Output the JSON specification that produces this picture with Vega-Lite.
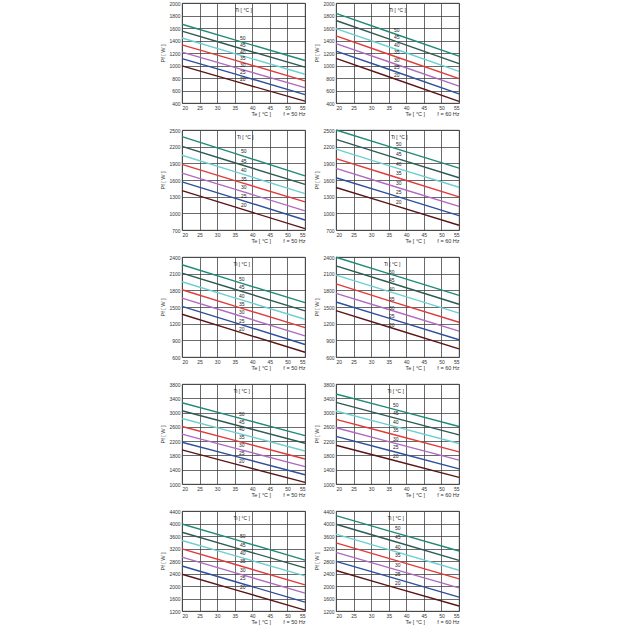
{
  "$schema": "https://vega.github.io/schema/vega-lite/v6.json",
  "padding": {"left": 160, "top": 0, "right": 5, "bottom": 5},
  "background": "white",
  "config": {
    "font": "Liberation Sans",
    "view": {"stroke": "#333", "strokeWidth": 0.8},
    "axis": {"gridColor": "#3a3a3a", "gridWidth": 0.75, "gridOpacity": 1, "domain": false, "ticks": false, "labelFontSize": 5, "labelColor": "#333", "titleFontSize": 5.5, "titleFontWeight": "normal", "titleColor": "#333", "labelPadding": 2},
    "axisX": {"titleAnchor": "end", "titlePadding": 1},
    "axisY": {"titlePadding": 3, "format": "d"},
    "text": {"fontSize": 5, "color": "#222"},
    "line": {"strokeWidth": 1.4}
  },
  "datasets": {
    "curves": [
      {"p":1,"Ti":50,"Te":20,"Pf":1660},{"p":1,"Ti":50,"Te":35,"Pf":1410},{"p":1,"Ti":50,"Te":55,"Pf":1080},
      {"p":1,"Ti":45,"Te":20,"Pf":1550},{"p":1,"Ti":45,"Te":35,"Pf":1300},{"p":1,"Ti":45,"Te":55,"Pf":975},
      {"p":1,"Ti":40,"Te":20,"Pf":1440},{"p":1,"Ti":40,"Te":35,"Pf":1190},{"p":1,"Ti":40,"Te":55,"Pf":860},
      {"p":1,"Ti":35,"Te":20,"Pf":1330},{"p":1,"Ti":35,"Te":35,"Pf":1085},{"p":1,"Ti":35,"Te":55,"Pf":755},
      {"p":1,"Ti":30,"Te":20,"Pf":1215},{"p":1,"Ti":30,"Te":35,"Pf":970},{"p":1,"Ti":30,"Te":55,"Pf":645},
      {"p":1,"Ti":25,"Te":20,"Pf":1110},{"p":1,"Ti":25,"Te":35,"Pf":865},{"p":1,"Ti":25,"Te":55,"Pf":535},
      {"p":1,"Ti":20,"Te":20,"Pf":995},{"p":1,"Ti":20,"Te":35,"Pf":750},{"p":1,"Ti":20,"Te":55,"Pf":430},

      {"p":2,"Ti":50,"Te":20,"Pf":1835},{"p":2,"Ti":50,"Te":35,"Pf":1540},{"p":2,"Ti":50,"Te":55,"Pf":1150},
      {"p":2,"Ti":45,"Te":20,"Pf":1720},{"p":2,"Ti":45,"Te":35,"Pf":1425},{"p":2,"Ti":45,"Te":55,"Pf":1030},
      {"p":2,"Ti":40,"Te":20,"Pf":1590},{"p":2,"Ti":40,"Te":35,"Pf":1300},{"p":2,"Ti":40,"Te":55,"Pf":905},
      {"p":2,"Ti":35,"Te":20,"Pf":1475},{"p":2,"Ti":35,"Te":35,"Pf":1180},{"p":2,"Ti":35,"Te":55,"Pf":790},
      {"p":2,"Ti":30,"Te":20,"Pf":1350},{"p":2,"Ti":30,"Te":35,"Pf":1060},{"p":2,"Ti":30,"Te":55,"Pf":670},
      {"p":2,"Ti":25,"Te":20,"Pf":1230},{"p":2,"Ti":25,"Te":35,"Pf":940},{"p":2,"Ti":25,"Te":55,"Pf":545},
      {"p":2,"Ti":20,"Te":20,"Pf":1115},{"p":2,"Ti":20,"Te":35,"Pf":820},{"p":2,"Ti":20,"Te":55,"Pf":425},

      {"p":3,"Ti":50,"Te":20,"Pf":2380},{"p":3,"Ti":50,"Te":35,"Pf":2080},{"p":3,"Ti":50,"Te":55,"Pf":1675},
      {"p":3,"Ti":45,"Te":20,"Pf":2205},{"p":3,"Ti":45,"Te":35,"Pf":1910},{"p":3,"Ti":45,"Te":55,"Pf":1520},
      {"p":3,"Ti":40,"Te":20,"Pf":2045},{"p":3,"Ti":40,"Te":35,"Pf":1750},{"p":3,"Ti":40,"Te":55,"Pf":1355},
      {"p":3,"Ti":35,"Te":20,"Pf":1880},{"p":3,"Ti":35,"Te":35,"Pf":1590},{"p":3,"Ti":35,"Te":55,"Pf":1205},
      {"p":3,"Ti":30,"Te":20,"Pf":1725},{"p":3,"Ti":30,"Te":35,"Pf":1435},{"p":3,"Ti":30,"Te":55,"Pf":1045},
      {"p":3,"Ti":25,"Te":20,"Pf":1565},{"p":3,"Ti":25,"Te":35,"Pf":1275},{"p":3,"Ti":25,"Te":55,"Pf":880},
      {"p":3,"Ti":20,"Te":20,"Pf":1410},{"p":3,"Ti":20,"Te":35,"Pf":1115},{"p":3,"Ti":20,"Te":55,"Pf":725},

      {"p":4,"Ti":50,"Te":20,"Pf":2500},{"p":4,"Ti":50,"Te":35,"Pf":2205},{"p":4,"Ti":50,"Te":55,"Pf":1815},
      {"p":4,"Ti":45,"Te":20,"Pf":2330},{"p":4,"Ti":45,"Te":35,"Pf":2035},{"p":4,"Ti":45,"Te":55,"Pf":1640},
      {"p":4,"Ti":40,"Te":20,"Pf":2155},{"p":4,"Ti":40,"Te":35,"Pf":1860},{"p":4,"Ti":40,"Te":55,"Pf":1470},
      {"p":4,"Ti":35,"Te":20,"Pf":1985},{"p":4,"Ti":35,"Te":35,"Pf":1690},{"p":4,"Ti":35,"Te":55,"Pf":1295},
      {"p":4,"Ti":30,"Te":20,"Pf":1810},{"p":4,"Ti":30,"Te":35,"Pf":1515},{"p":4,"Ti":30,"Te":55,"Pf":1125},
      {"p":4,"Ti":25,"Te":20,"Pf":1640},{"p":4,"Ti":25,"Te":35,"Pf":1350},{"p":4,"Ti":25,"Te":55,"Pf":960},
      {"p":4,"Ti":20,"Te":20,"Pf":1465},{"p":4,"Ti":20,"Te":35,"Pf":1175},{"p":4,"Ti":20,"Te":55,"Pf":785},

      {"p":5,"Ti":50,"Te":20,"Pf":2260},{"p":5,"Ti":50,"Te":35,"Pf":1965},{"p":5,"Ti":50,"Te":55,"Pf":1580},
      {"p":5,"Ti":45,"Te":20,"Pf":2110},{"p":5,"Ti":45,"Te":35,"Pf":1820},{"p":5,"Ti":45,"Te":55,"Pf":1430},
      {"p":5,"Ti":40,"Te":20,"Pf":1955},{"p":5,"Ti":40,"Te":35,"Pf":1665},{"p":5,"Ti":40,"Te":55,"Pf":1280},
      {"p":5,"Ti":35,"Te":20,"Pf":1810},{"p":5,"Ti":35,"Te":35,"Pf":1515},{"p":5,"Ti":35,"Te":55,"Pf":1130},
      {"p":5,"Ti":30,"Te":20,"Pf":1660},{"p":5,"Ti":30,"Te":35,"Pf":1370},{"p":5,"Ti":30,"Te":55,"Pf":980},
      {"p":5,"Ti":25,"Te":20,"Pf":1510},{"p":5,"Ti":25,"Te":35,"Pf":1220},{"p":5,"Ti":25,"Te":55,"Pf":825},
      {"p":5,"Ti":20,"Te":20,"Pf":1370},{"p":5,"Ti":20,"Te":35,"Pf":1075},{"p":5,"Ti":20,"Te":55,"Pf":685},

      {"p":6,"Ti":50,"Te":20,"Pf":2395},{"p":6,"Ti":50,"Te":35,"Pf":2100},{"p":6,"Ti":50,"Te":55,"Pf":1710},
      {"p":6,"Ti":45,"Te":20,"Pf":2240},{"p":6,"Ti":45,"Te":35,"Pf":1945},{"p":6,"Ti":45,"Te":55,"Pf":1550},
      {"p":6,"Ti":40,"Te":20,"Pf":2075},{"p":6,"Ti":40,"Te":35,"Pf":1780},{"p":6,"Ti":40,"Te":55,"Pf":1390},
      {"p":6,"Ti":35,"Te":20,"Pf":1915},{"p":6,"Ti":35,"Te":35,"Pf":1615},{"p":6,"Ti":35,"Te":55,"Pf":1225},
      {"p":6,"Ti":30,"Te":20,"Pf":1745},{"p":6,"Ti":30,"Te":35,"Pf":1455},{"p":6,"Ti":30,"Te":55,"Pf":1065},
      {"p":6,"Ti":25,"Te":20,"Pf":1590},{"p":6,"Ti":25,"Te":35,"Pf":1300},{"p":6,"Ti":25,"Te":55,"Pf":910},
      {"p":6,"Ti":20,"Te":20,"Pf":1435},{"p":6,"Ti":20,"Te":35,"Pf":1140},{"p":6,"Ti":20,"Te":55,"Pf":745},

      {"p":7,"Ti":50,"Te":20,"Pf":3275},{"p":7,"Ti":50,"Te":35,"Pf":2880},{"p":7,"Ti":50,"Te":55,"Pf":2355},
      {"p":7,"Ti":45,"Te":20,"Pf":3050},{"p":7,"Ti":45,"Te":35,"Pf":2660},{"p":7,"Ti":45,"Te":55,"Pf":2140},
      {"p":7,"Ti":40,"Te":20,"Pf":2835},{"p":7,"Ti":40,"Te":35,"Pf":2445},{"p":7,"Ti":40,"Te":55,"Pf":1925},
      {"p":7,"Ti":35,"Te":20,"Pf":2610},{"p":7,"Ti":35,"Te":35,"Pf":2220},{"p":7,"Ti":35,"Te":55,"Pf":1700},
      {"p":7,"Ti":30,"Te":20,"Pf":2395},{"p":7,"Ti":30,"Te":35,"Pf":2005},{"p":7,"Ti":30,"Te":55,"Pf":1485},
      {"p":7,"Ti":25,"Te":20,"Pf":2170},{"p":7,"Ti":25,"Te":35,"Pf":1780},{"p":7,"Ti":25,"Te":55,"Pf":1260},
      {"p":7,"Ti":20,"Te":20,"Pf":1955},{"p":7,"Ti":20,"Te":35,"Pf":1565},{"p":7,"Ti":20,"Te":55,"Pf":1045},

      {"p":8,"Ti":50,"Te":20,"Pf":3520},{"p":8,"Ti":50,"Te":35,"Pf":3130},{"p":8,"Ti":50,"Te":55,"Pf":2610},
      {"p":8,"Ti":45,"Te":20,"Pf":3285},{"p":8,"Ti":45,"Te":35,"Pf":2895},{"p":8,"Ti":45,"Te":55,"Pf":2375},
      {"p":8,"Ti":40,"Te":20,"Pf":3045},{"p":8,"Ti":40,"Te":35,"Pf":2655},{"p":8,"Ti":40,"Te":55,"Pf":2135},
      {"p":8,"Ti":35,"Te":20,"Pf":2810},{"p":8,"Ti":35,"Te":35,"Pf":2420},{"p":8,"Ti":35,"Te":55,"Pf":1900},
      {"p":8,"Ti":30,"Te":20,"Pf":2575},{"p":8,"Ti":30,"Te":35,"Pf":2185},{"p":8,"Ti":30,"Te":55,"Pf":1670},
      {"p":8,"Ti":25,"Te":20,"Pf":2335},{"p":8,"Ti":25,"Te":35,"Pf":1945},{"p":8,"Ti":25,"Te":55,"Pf":1425},
      {"p":8,"Ti":20,"Te":20,"Pf":2085},{"p":8,"Ti":20,"Te":35,"Pf":1700},{"p":8,"Ti":20,"Te":55,"Pf":1185},

      {"p":9,"Ti":50,"Te":20,"Pf":3985},{"p":9,"Ti":50,"Te":35,"Pf":3490},{"p":9,"Ti":50,"Te":55,"Pf":2830},
      {"p":9,"Ti":45,"Te":20,"Pf":3720},{"p":9,"Ti":45,"Te":35,"Pf":3230},{"p":9,"Ti":45,"Te":55,"Pf":2580},
      {"p":9,"Ti":40,"Te":20,"Pf":3455},{"p":9,"Ti":40,"Te":35,"Pf":2970},{"p":9,"Ti":40,"Te":55,"Pf":2325},
      {"p":9,"Ti":35,"Te":20,"Pf":3190},{"p":9,"Ti":35,"Te":35,"Pf":2695},{"p":9,"Ti":35,"Te":55,"Pf":2035},
      {"p":9,"Ti":30,"Te":20,"Pf":2925},{"p":9,"Ti":30,"Te":35,"Pf":2430},{"p":9,"Ti":30,"Te":55,"Pf":1770},
      {"p":9,"Ti":25,"Te":20,"Pf":2640},{"p":9,"Ti":25,"Te":35,"Pf":2145},{"p":9,"Ti":25,"Te":55,"Pf":1485},
      {"p":9,"Ti":20,"Te":20,"Pf":2375},{"p":9,"Ti":20,"Te":35,"Pf":1885},{"p":9,"Ti":20,"Te":55,"Pf":1230},

      {"p":10,"Ti":50,"Te":20,"Pf":4250},{"p":10,"Ti":50,"Te":35,"Pf":3765},{"p":10,"Ti":50,"Te":55,"Pf":3120},
      {"p":10,"Ti":45,"Te":20,"Pf":3975},{"p":10,"Ti":45,"Te":35,"Pf":3480},{"p":10,"Ti":45,"Te":55,"Pf":2820},
      {"p":10,"Ti":40,"Te":20,"Pf":3660},{"p":10,"Ti":40,"Te":35,"Pf":3165},{"p":10,"Ti":40,"Te":55,"Pf":2505},
      {"p":10,"Ti":35,"Te":20,"Pf":3380},{"p":10,"Ti":35,"Te":35,"Pf":2885},{"p":10,"Ti":35,"Te":55,"Pf":2230},
      {"p":10,"Ti":30,"Te":20,"Pf":3075},{"p":10,"Ti":30,"Te":35,"Pf":2590},{"p":10,"Ti":30,"Te":55,"Pf":1940},
      {"p":10,"Ti":25,"Te":20,"Pf":2790},{"p":10,"Ti":25,"Te":35,"Pf":2300},{"p":10,"Ti":25,"Te":55,"Pf":1645},
      {"p":10,"Ti":20,"Te":20,"Pf":2495},{"p":10,"Ti":20,"Te":35,"Pf":2005},{"p":10,"Ti":20,"Te":55,"Pf":1360}
    ]
  },
  "data": {"name": "curves"},
  "columns": 2,
  "bounds": "flush",
  "spacing": {"row": 27, "column": 31},
  "concat": [
    {"width": 123, "height": 100, "transform": [{"filter": "datum.p == 1"}],
     "encoding": {"x": {"field": "Te", "type": "quantitative", "scale": {"domain": [20, 55]}, "axis": {"values": [20,25,30,35,40,45,50,55], "title": "Te [ °C ]\u00a0\u00a0\u00a0\u00a0\u00a0\u00a0\u00a0\u00a0f = 50 Hz"}},
                  "y": {"field": "Pf", "type": "quantitative", "scale": {"domain": [400, 2000]}, "axis": {"values": [400,600,800,1000,1200,1400,1600,1800,2000], "title": "Pf [ W ]"}}},
     "layer": [
       {"mark": "line", "encoding": {"detail": {"field": "Ti"}, "color": {"field": "Ti", "type": "nominal", "legend": null, "scale": {"domain": [50,45,40,35,30,25,20], "range": ["#1f8a78","#2e5a55","#6ccfd0","#e23a3a","#b06ac0","#2e4f9e","#5a1518"]}}}},
       {"transform": [{"filter": "datum.Te == 35"}], "mark": {"type": "text", "dx": 8, "dy": -2}, "encoding": {"text": {"field": "Ti"}}},
       {"transform": [{"filter": "datum.Te == 20 && datum.Ti == 50"}], "mark": {"type": "text", "baseline": "top", "dy": 5}, "encoding": {"x": {"datum": 37.5}, "y": {"datum": 2000}, "text": {"value": "Ti [ °C ]"}}}
     ]},
    {"width": 123, "height": 100, "transform": [{"filter": "datum.p == 2"}],
     "encoding": {"x": {"field": "Te", "type": "quantitative", "scale": {"domain": [20, 55]}, "axis": {"values": [20,25,30,35,40,45,50,55], "title": "Te [ °C ]\u00a0\u00a0\u00a0\u00a0\u00a0\u00a0\u00a0\u00a0f = 60 Hz"}},
                  "y": {"field": "Pf", "type": "quantitative", "scale": {"domain": [400, 2000]}, "axis": {"values": [400,600,800,1000,1200,1400,1600,1800,2000], "title": "Pf [ W ]"}}},
     "layer": [
       {"mark": "line", "encoding": {"detail": {"field": "Ti"}, "color": {"field": "Ti", "type": "nominal", "legend": null, "scale": {"domain": [50,45,40,35,30,25,20], "range": ["#1f8a78","#2e5a55","#6ccfd0","#e23a3a","#b06ac0","#2e4f9e","#5a1518"]}}}},
       {"transform": [{"filter": "datum.Te == 35"}], "mark": {"type": "text", "dx": 8, "dy": -2}, "encoding": {"text": {"field": "Ti"}}},
       {"transform": [{"filter": "datum.Te == 20 && datum.Ti == 50"}], "mark": {"type": "text", "baseline": "top", "dy": 5}, "encoding": {"x": {"datum": 37.5}, "y": {"datum": 2000}, "text": {"value": "Ti [ °C ]"}}}
     ]},
    {"width": 123, "height": 100, "transform": [{"filter": "datum.p == 3"}],
     "encoding": {"x": {"field": "Te", "type": "quantitative", "scale": {"domain": [20, 55]}, "axis": {"values": [20,25,30,35,40,45,50,55], "title": "Te [ °C ]\u00a0\u00a0\u00a0\u00a0\u00a0\u00a0\u00a0\u00a0f = 50 Hz"}},
                  "y": {"field": "Pf", "type": "quantitative", "scale": {"domain": [700, 2500]}, "axis": {"values": [700,1000,1300,1600,1900,2200,2500], "title": "Pf [ W ]"}}},
     "layer": [
       {"mark": "line", "encoding": {"detail": {"field": "Ti"}, "color": {"field": "Ti", "type": "nominal", "legend": null, "scale": {"domain": [50,45,40,35,30,25,20], "range": ["#1f8a78","#2e5a55","#6ccfd0","#e23a3a","#b06ac0","#2e4f9e","#5a1518"]}}}},
       {"transform": [{"filter": "datum.Te == 35"}], "mark": {"type": "text", "dx": 9, "dy": -2}, "encoding": {"text": {"field": "Ti"}}},
       {"transform": [{"filter": "datum.Te == 20 && datum.Ti == 50"}], "mark": {"type": "text", "baseline": "top", "dy": 5}, "encoding": {"x": {"datum": 38}, "y": {"datum": 2500}, "text": {"value": "Ti [ °C ]"}}}
     ]},
    {"width": 123, "height": 100, "transform": [{"filter": "datum.p == 4"}],
     "encoding": {"x": {"field": "Te", "type": "quantitative", "scale": {"domain": [20, 55]}, "axis": {"values": [20,25,30,35,40,45,50,55], "title": "Te [ °C ]\u00a0\u00a0\u00a0\u00a0\u00a0\u00a0\u00a0\u00a0f = 60 Hz"}},
                  "y": {"field": "Pf", "type": "quantitative", "scale": {"domain": [700, 2500]}, "axis": {"values": [700,1000,1300,1600,1900,2200,2500], "title": "Pf [ W ]"}}},
     "layer": [
       {"mark": "line", "encoding": {"detail": {"field": "Ti"}, "color": {"field": "Ti", "type": "nominal", "legend": null, "scale": {"domain": [50,45,40,35,30,25,20], "range": ["#1f8a78","#2e5a55","#6ccfd0","#e23a3a","#b06ac0","#2e4f9e","#5a1518"]}}}},
       {"transform": [{"filter": "datum.Te == 35"}], "mark": {"type": "text", "dx": 10, "dy": -2}, "encoding": {"text": {"field": "Ti"}}},
       {"transform": [{"filter": "datum.Te == 20 && datum.Ti == 50"}], "mark": {"type": "text", "baseline": "top", "dy": 5}, "encoding": {"x": {"datum": 38}, "y": {"datum": 2500}, "text": {"value": "Ti [ °C ]"}}}
     ]},
    {"width": 123, "height": 100, "transform": [{"filter": "datum.p == 5"}],
     "encoding": {"x": {"field": "Te", "type": "quantitative", "scale": {"domain": [20, 55]}, "axis": {"values": [20,25,30,35,40,45,50,55], "title": "Te [ °C ]\u00a0\u00a0\u00a0\u00a0\u00a0\u00a0\u00a0\u00a0f = 50 Hz"}},
                  "y": {"field": "Pf", "type": "quantitative", "scale": {"domain": [600, 2400]}, "axis": {"values": [600,900,1200,1500,1800,2100,2400], "title": "Pf [ W ]"}}},
     "layer": [
       {"mark": "line", "encoding": {"detail": {"field": "Ti"}, "color": {"field": "Ti", "type": "nominal", "legend": null, "scale": {"domain": [50,45,40,35,30,25,20], "range": ["#1f8a78","#2e5a55","#6ccfd0","#e23a3a","#b06ac0","#2e4f9e","#5a1518"]}}}},
       {"transform": [{"filter": "datum.Te == 35"}], "mark": {"type": "text", "dx": 7, "dy": -2}, "encoding": {"text": {"field": "Ti"}}},
       {"transform": [{"filter": "datum.Te == 20 && datum.Ti == 50"}], "mark": {"type": "text", "baseline": "top", "dy": 5}, "encoding": {"x": {"datum": 37}, "y": {"datum": 2400}, "text": {"value": "Ti [ °C ]"}}}
     ]},
    {"width": 123, "height": 100, "transform": [{"filter": "datum.p == 6"}],
     "encoding": {"x": {"field": "Te", "type": "quantitative", "scale": {"domain": [20, 55]}, "axis": {"values": [20,25,30,35,40,45,50,55], "title": "Te [ °C ]\u00a0\u00a0\u00a0\u00a0\u00a0\u00a0\u00a0\u00a0f = 60 Hz"}},
                  "y": {"field": "Pf", "type": "quantitative", "scale": {"domain": [600, 2400]}, "axis": {"values": [600,900,1200,1500,1800,2100,2400], "title": "Pf [ W ]"}}},
     "layer": [
       {"mark": "line", "encoding": {"detail": {"field": "Ti"}, "color": {"field": "Ti", "type": "nominal", "legend": null, "scale": {"domain": [50,45,40,35,30,25,20], "range": ["#1f8a78","#2e5a55","#6ccfd0","#e23a3a","#b06ac0","#2e4f9e","#5a1518"]}}}},
       {"transform": [{"filter": "datum.Te == 35"}], "mark": {"type": "text", "dx": 3, "dy": -2}, "encoding": {"text": {"field": "Ti"}}},
       {"transform": [{"filter": "datum.Te == 20 && datum.Ti == 50"}], "mark": {"type": "text", "baseline": "top", "dy": 5}, "encoding": {"x": {"datum": 36}, "y": {"datum": 2400}, "text": {"value": "Ti [ °C ]"}}}
     ]},
    {"width": 123, "height": 100, "transform": [{"filter": "datum.p == 7"}],
     "encoding": {"x": {"field": "Te", "type": "quantitative", "scale": {"domain": [20, 55]}, "axis": {"values": [20,25,30,35,40,45,50,55], "title": "Te [ °C ]\u00a0\u00a0\u00a0\u00a0\u00a0\u00a0\u00a0\u00a0f = 50 Hz"}},
                  "y": {"field": "Pf", "type": "quantitative", "scale": {"domain": [1000, 3800]}, "axis": {"values": [1000,1400,1800,2200,2600,3000,3400,3800], "title": "Pf [ W ]"}}},
     "layer": [
       {"mark": "line", "encoding": {"detail": {"field": "Ti"}, "color": {"field": "Ti", "type": "nominal", "legend": null, "scale": {"domain": [50,45,40,35,30,25,20], "range": ["#1f8a78","#2e5a55","#6ccfd0","#e23a3a","#b06ac0","#2e4f9e","#5a1518"]}}}},
       {"transform": [{"filter": "datum.Te == 35"}], "mark": {"type": "text", "dx": 7, "dy": -3}, "encoding": {"text": {"field": "Ti"}}},
       {"transform": [{"filter": "datum.Te == 20 && datum.Ti == 50"}], "mark": {"type": "text", "baseline": "top", "dy": 5}, "encoding": {"x": {"datum": 37}, "y": {"datum": 3800}, "text": {"value": "Ti [ °C ]"}}}
     ]},
    {"width": 123, "height": 100, "transform": [{"filter": "datum.p == 8"}],
     "encoding": {"x": {"field": "Te", "type": "quantitative", "scale": {"domain": [20, 55]}, "axis": {"values": [20,25,30,35,40,45,50,55], "title": "Te [ °C ]\u00a0\u00a0\u00a0\u00a0\u00a0\u00a0\u00a0\u00a0f = 60 Hz"}},
                  "y": {"field": "Pf", "type": "quantitative", "scale": {"domain": [1000, 3800]}, "axis": {"values": [1000,1400,1800,2200,2600,3000,3400,3800], "title": "Pf [ W ]"}}},
     "layer": [
       {"mark": "line", "encoding": {"detail": {"field": "Ti"}, "color": {"field": "Ti", "type": "nominal", "legend": null, "scale": {"domain": [50,45,40,35,30,25,20], "range": ["#1f8a78","#2e5a55","#6ccfd0","#e23a3a","#b06ac0","#2e4f9e","#5a1518"]}}}},
       {"transform": [{"filter": "datum.Te == 35"}], "mark": {"type": "text", "dx": 7, "dy": -3}, "encoding": {"text": {"field": "Ti"}}},
       {"transform": [{"filter": "datum.Te == 20 && datum.Ti == 50"}], "mark": {"type": "text", "baseline": "top", "dy": 5}, "encoding": {"x": {"datum": 37}, "y": {"datum": 3800}, "text": {"value": "Ti [ °C ]"}}}
     ]},
    {"width": 123, "height": 100, "transform": [{"filter": "datum.p == 9"}],
     "encoding": {"x": {"field": "Te", "type": "quantitative", "scale": {"domain": [20, 55]}, "axis": {"values": [20,25,30,35,40,45,50,55], "title": "Te [ °C ]\u00a0\u00a0\u00a0\u00a0\u00a0\u00a0\u00a0\u00a0f = 50 Hz"}},
                  "y": {"field": "Pf", "type": "quantitative", "scale": {"domain": [1200, 4400]}, "axis": {"values": [1200,1600,2000,2400,2800,3200,3600,4000,4400], "title": "Pf [ W ]"}}},
     "layer": [
       {"mark": "line", "encoding": {"detail": {"field": "Ti"}, "color": {"field": "Ti", "type": "nominal", "legend": null, "scale": {"domain": [50,45,40,35,30,25,20], "range": ["#1f8a78","#2e5a55","#6ccfd0","#e23a3a","#b06ac0","#2e4f9e","#5a1518"]}}}},
       {"transform": [{"filter": "datum.Te == 35"}], "mark": {"type": "text", "dx": 8, "dy": -3}, "encoding": {"text": {"field": "Ti"}}},
       {"transform": [{"filter": "datum.Te == 20 && datum.Ti == 50"}], "mark": {"type": "text", "baseline": "top", "dy": 5}, "encoding": {"x": {"datum": 37}, "y": {"datum": 4400}, "text": {"value": "Ti [ °C ]"}}}
     ]},
    {"width": 123, "height": 100, "transform": [{"filter": "datum.p == 10"}],
     "encoding": {"x": {"field": "Te", "type": "quantitative", "scale": {"domain": [20, 55]}, "axis": {"values": [20,25,30,35,40,45,50,55], "title": "Te [ °C ]\u00a0\u00a0\u00a0\u00a0\u00a0\u00a0\u00a0\u00a0f = 60 Hz"}},
                  "y": {"field": "Pf", "type": "quantitative", "scale": {"domain": [1200, 4400]}, "axis": {"values": [1200,1600,2000,2400,2800,3200,3600,4000,4400], "title": "Pf [ W ]"}}},
     "layer": [
       {"mark": "line", "encoding": {"detail": {"field": "Ti"}, "color": {"field": "Ti", "type": "nominal", "legend": null, "scale": {"domain": [50,45,40,35,30,25,20], "range": ["#1f8a78","#2e5a55","#6ccfd0","#e23a3a","#b06ac0","#2e4f9e","#5a1518"]}}}},
       {"transform": [{"filter": "datum.Te == 35"}], "mark": {"type": "text", "dx": 9, "dy": -3}, "encoding": {"text": {"field": "Ti"}}},
       {"transform": [{"filter": "datum.Te == 20 && datum.Ti == 50"}], "mark": {"type": "text", "baseline": "top", "dy": 5}, "encoding": {"x": {"datum": 37}, "y": {"datum": 4400}, "text": {"value": "Ti [ °C ]"}}}
     ]}
  ]
}
